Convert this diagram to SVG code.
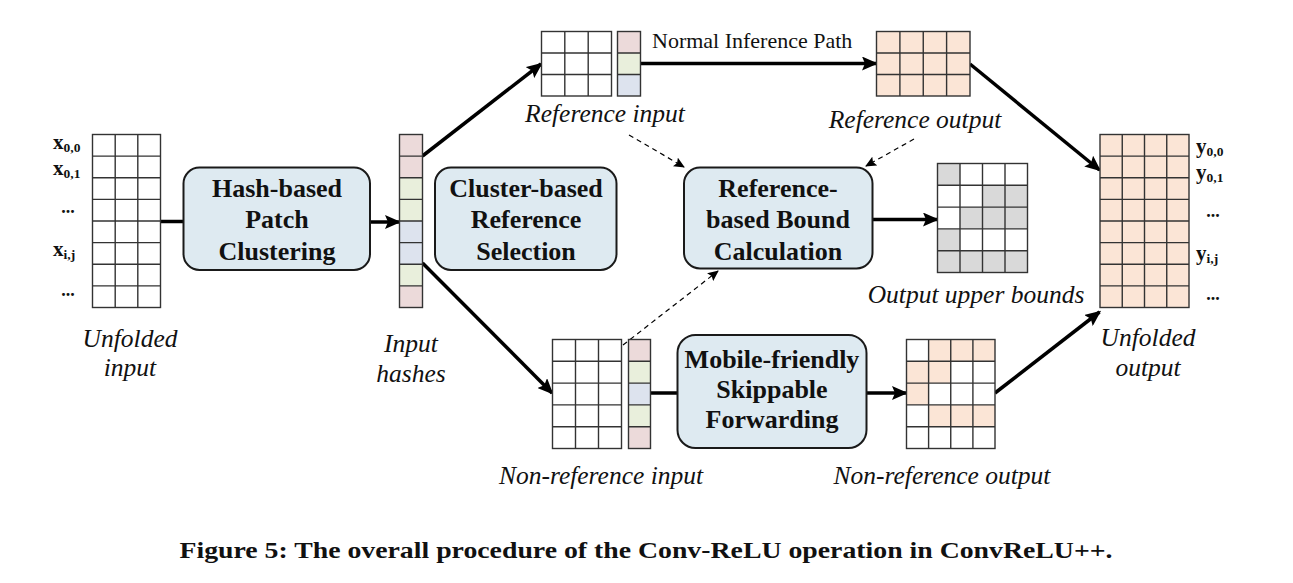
<svg xmlns="http://www.w3.org/2000/svg" width="1293" height="583" viewBox="0 0 1293 583">
<style>
.bg{fill:#ffffff}
.box{fill:#deeaf1;stroke:#1a1a1a;stroke-width:2}
.bt{font-family:"Liberation Serif",serif;font-weight:bold;font-size:26px;fill:#111;text-anchor:middle}
.lab{font-family:"Liberation Serif",serif;font-style:italic;font-size:25.5px;fill:#111;text-anchor:middle}
.sub{font-family:"Liberation Serif",serif;font-weight:bold;font-size:21px;fill:#111}
.dots{font-family:"Liberation Serif",serif;font-weight:bold;font-size:18px;fill:#111;text-anchor:middle}
.gl{fill:none;stroke:#333;stroke-width:1.4}
.frame{stroke:#333;stroke-width:1.4}
.pk{fill:#ecdada}.gr{fill:#e9efdc}.bl{fill:#dde3ee}.pe{fill:#fbe5d6}.gy{fill:#d9d9d9}
.c{fill:none;stroke:#000;stroke-width:3.5}
.d{fill:none;stroke:#000;stroke-width:1.2;stroke-dasharray:5 4}
</style>
<defs>
<marker id="ah" markerUnits="userSpaceOnUse" markerWidth="16" markerHeight="14" viewBox="0 0 16 14" refX="14" refY="7" orient="auto">
<path d="M0,0 L16,7 L0,14 L3,7 Z" fill="#000"/>
</marker>
<marker id="ahs" markerUnits="userSpaceOnUse" markerWidth="11" markerHeight="10" viewBox="0 0 11 10" refX="10" refY="5" orient="auto">
<path d="M0,0 L11,5 L0,10 L2,5 Z" fill="#000"/>
</marker>
</defs>
<rect class="bg" x="0" y="0" width="1293" height="583"/>

<g id="connectors">
<line class="c" x1="160.5" y1="221.5" x2="184" y2="221.5"/>
<line class="c" x1="370" y1="222" x2="399" y2="222" marker-end="url(#ah)"/>
<line class="c" x1="422.5" y1="156" x2="541" y2="64" marker-end="url(#ah)"/>
<line class="c" x1="422.5" y1="263" x2="552" y2="393" marker-end="url(#ah)"/>
<line class="c" x1="640.5" y1="63.5" x2="876" y2="63.5" marker-end="url(#ah)"/>
<line class="c" x1="970" y1="64" x2="1099.5" y2="170" marker-end="url(#ah)"/>
<line class="c" x1="650.5" y1="393" x2="678" y2="393"/>
<line class="c" x1="866.5" y1="393" x2="906" y2="393" marker-end="url(#ah)"/>
<line class="c" x1="995" y1="393" x2="1099.5" y2="312" marker-end="url(#ah)"/>
<line class="c" x1="872.5" y1="219.5" x2="937" y2="219.5" marker-end="url(#ah)"/>
<line class="d" x1="629" y1="135" x2="684" y2="167" marker-end="url(#ahs)"/>
<line class="d" x1="914" y1="139" x2="866" y2="166" marker-end="url(#ahs)"/>
<line class="d" x1="623" y1="345" x2="718" y2="271" marker-end="url(#ahs)"/>
</g>

<g id="unfolded-input">
<rect x="92.5" y="134.5" width="68" height="173" fill="#fff" class="frame"/>
<path class="gl" d="M115.2,134.5V307.5M137.8,134.5V307.5M92.5,156.1H160.5M92.5,177.75H160.5M92.5,199.4H160.5M92.5,221H160.5M92.5,242.6H160.5M92.5,264.25H160.5M92.5,285.9H160.5"/>
<text class="sub" x="53" y="149">x<tspan font-size="13.5" dy="3">0,0</tspan></text>
<text class="sub" x="53" y="175">x<tspan font-size="13.5" dy="3">0,1</tspan></text>
<text class="dots" x="68" y="213">...</text>
<text class="sub" x="53" y="256">x<tspan font-size="13.5" dy="3">i,j</tspan></text>
<text class="dots" x="68" y="296">...</text>
<text class="lab"><tspan x="130" y="347">Unfolded</tspan><tspan x="130" y="376">input</tspan></text>
</g>

<g id="hash-clustering">
<rect class="box" x="183.5" y="167.5" width="186.5" height="102.5" rx="16"/>
<text class="bt" x="277" y="197">Hash-based</text>
<text class="bt" x="277" y="228">Patch</text>
<text class="bt" x="277" y="260">Clustering</text>
</g>

<g id="input-hashes">
<rect class="pk" x="399.5" y="134.5" width="23" height="43.25"/>
<rect class="gr" x="399.5" y="177.75" width="23" height="43.25"/>
<rect class="bl" x="399.5" y="221" width="23" height="43.25"/>
<rect class="gr" x="399.5" y="264.25" width="23" height="21.65"/>
<rect class="pk" x="399.5" y="285.9" width="23" height="21.6"/>
<rect x="399.5" y="134.5" width="23" height="173" fill="none" class="frame"/>
<path class="gl" d="M399.5,156.1H422.5M399.5,177.75H422.5M399.5,199.4H422.5M399.5,221H422.5M399.5,242.6H422.5M399.5,264.25H422.5M399.5,285.9H422.5"/>
<text class="lab"><tspan x="411" y="352">Input</tspan><tspan x="411" y="382">hashes</tspan></text>
</g>

<g id="cluster-selection">
<rect class="box" x="435" y="167.5" width="181.5" height="102.5" rx="16"/>
<text class="bt" x="526" y="197">Cluster-based</text>
<text class="bt" x="526" y="228">Reference</text>
<text class="bt" x="526" y="260">Selection</text>
</g>

<g id="reference-input">
<rect x="541.5" y="31.5" width="70" height="64.5" fill="#fff" class="frame"/>
<path class="gl" d="M564.8,31.5V96M588.2,31.5V96M541.5,53H611.5M541.5,74.5H611.5"/>
<rect class="pk" x="617.5" y="31.5" width="23" height="21.5"/>
<rect class="gr" x="617.5" y="53" width="23" height="21.5"/>
<rect class="bl" x="617.5" y="74.5" width="23" height="21.5"/>
<rect x="617.5" y="31.5" width="23" height="64.5" fill="none" class="frame"/>
<path class="gl" d="M617.5,53H640.5M617.5,74.5H640.5"/>
<text class="lab" x="605" y="122">Reference input</text>
</g>

<text x="652" y="48" font-family="Liberation Serif, serif" font-size="22" fill="#111">Normal Inference Path</text>

<g id="reference-output">
<rect class="pe frame" x="876.5" y="31.5" width="93.5" height="64.5"/>
<path class="gl" d="M899.9,31.5V96M923.25,31.5V96M946.6,31.5V96M876.5,53H970M876.5,74.5H970"/>
<text class="lab" x="915" y="128">Reference output</text>
</g>

<g id="bound-calculation">
<rect class="box" x="684" y="167.5" width="188.5" height="101" rx="16"/>
<text class="bt" x="778" y="197">Reference-</text>
<text class="bt" x="778" y="228">based Bound</text>
<text class="bt" x="778" y="260">Calculation</text>
</g>

<g id="upper-bounds">
<rect x="937.5" y="163.5" width="90" height="109" fill="#fff"/>
<rect class="gy" x="937.5" y="163.5" width="22.5" height="21.8"/>
<rect class="gy" x="982.5" y="185.3" width="45" height="21.8"/>
<rect class="gy" x="960" y="207.1" width="67.5" height="21.8"/>
<rect class="gy" x="937.5" y="228.9" width="22.5" height="21.8"/>
<rect class="gy" x="937.5" y="250.7" width="90" height="21.8"/>
<rect x="937.5" y="163.5" width="90" height="109" fill="none" class="frame"/>
<path class="gl" d="M960,163.5V272.5M982.5,163.5V272.5M1005,163.5V272.5M937.5,185.3H1027.5M937.5,207.1H1027.5M937.5,228.9H1027.5M937.5,250.7H1027.5"/>
<text class="lab" x="976" y="303">Output upper bounds</text>
</g>

<g id="nonreference-input">
<rect x="552.5" y="339.5" width="69" height="109" fill="#fff" class="frame"/>
<path class="gl" d="M575.5,339.5V448.5M598.5,339.5V448.5M552.5,361.3H621.5M552.5,383.1H621.5M552.5,404.9H621.5M552.5,426.7H621.5"/>
<rect class="pk" x="628.5" y="339.5" width="22" height="21.8"/>
<rect class="gr" x="628.5" y="361.3" width="22" height="21.8"/>
<rect class="bl" x="628.5" y="383.1" width="22" height="21.8"/>
<rect class="gr" x="628.5" y="404.9" width="22" height="21.8"/>
<rect class="pk" x="628.5" y="426.7" width="22" height="21.8"/>
<rect x="628.5" y="339.5" width="22" height="109" fill="none" class="frame"/>
<path class="gl" d="M628.5,361.3H650.5M628.5,383.1H650.5M628.5,404.9H650.5M628.5,426.7H650.5"/>
<text class="lab" x="601" y="484">Non-reference input</text>
</g>

<g id="skippable-forwarding">
<rect class="box" x="677.5" y="335" width="189" height="113" rx="18"/>
<text class="bt" x="772" y="368">Mobile-friendly</text>
<text class="bt" x="772" y="398">Skippable</text>
<text class="bt" x="772" y="428">Forwarding</text>
</g>

<g id="nonreference-output">
<rect x="906.5" y="339.5" width="88.5" height="109" fill="#fff"/>
<rect class="pe" x="928.6" y="339.5" width="66.4" height="21.8"/>
<rect class="pe" x="906.5" y="361.3" width="44.25" height="21.8"/>
<rect class="pe" x="906.5" y="383.1" width="22.1" height="21.8"/>
<rect class="pe" x="928.6" y="404.9" width="66.4" height="21.8"/>
<rect x="906.5" y="339.5" width="88.5" height="109" fill="none" class="frame"/>
<path class="gl" d="M928.6,339.5V448.5M950.75,339.5V448.5M972.9,339.5V448.5M906.5,361.3H995M906.5,383.1H995M906.5,404.9H995M906.5,426.7H995"/>
<text class="lab" x="942" y="484">Non-reference output</text>
</g>

<g id="unfolded-output">
<rect class="pe frame" x="1100" y="134.5" width="89" height="173"/>
<path class="gl" d="M1122.25,134.5V307.5M1144.5,134.5V307.5M1166.75,134.5V307.5M1100,156.1H1189M1100,177.75H1189M1100,199.4H1189M1100,221H1189M1100,242.6H1189M1100,264.25H1189M1100,285.9H1189"/>
<text class="sub" x="1196" y="153">y<tspan font-size="13.5" dy="3">0,0</tspan></text>
<text class="sub" x="1196" y="179">y<tspan font-size="13.5" dy="3">0,1</tspan></text>
<text class="dots" x="1213" y="217">...</text>
<text class="sub" x="1196" y="260">y<tspan font-size="13.5" dy="3">i,j</tspan></text>
<text class="dots" x="1213" y="300">...</text>
<text class="lab"><tspan x="1148" y="346">Unfolded</tspan><tspan x="1148" y="376">output</tspan></text>
</g>

<text x="646" y="558" text-anchor="middle" font-family="Liberation Serif, serif" font-weight="bold" font-size="23" fill="#111" textLength="933" lengthAdjust="spacingAndGlyphs">Figure 5: The overall procedure of the Conv-ReLU operation in ConvReLU++.</text>
</svg>
